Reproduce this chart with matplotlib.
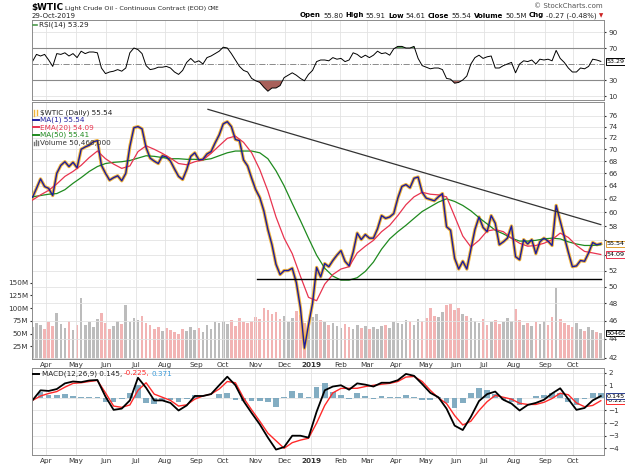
import numpy as np
import pandas as pd
import matplotlib
matplotlib.use('Agg')
import matplotlib.pyplot as plt
from matplotlib.lines import Line2D
from matplotlib.ticker import NullLocator, NullFormatter

plt.rcParams['font.family'] = ['DejaVu Sans']

# trading calendar shown on the chart (exchange holidays inside the window)
first_day = '2018-03-16'
last_day = '2019-10-29'
holidays = ['2018-03-30', '2018-05-28', '2018-07-04', '2018-09-03', '2018-11-22',
            '2018-12-05', '2018-12-25', '2019-01-01', '2019-01-21', '2019-02-18',
            '2019-04-19', '2019-05-27', '2019-07-04', '2019-09-02']

close = [62.2, 63.6, 65.1, 63.9, 63.6, 62.5, 66.0, 67.3, 67.9, 67.1,
         67.8, 66.9, 70.0, 70.4, 70.7, 71.3, 71.5, 67.3, 66.0, 64.9,
         65.3, 65.6, 64.8, 66.0, 70.5, 73.8, 74.0, 73.6, 70.3, 68.5,
         68.0, 67.6, 68.9, 68.7, 68.0, 66.7, 65.5, 65.0, 66.6, 68.8,
         69.4, 68.2, 68.3, 69.2, 69.6, 71.1, 72.5, 74.5, 74.9, 74.0,
         71.7, 71.5, 68.2, 67.2, 65.2, 63.4, 62.2, 60.2, 57.5, 55.4,
         52.8, 51.5, 52.0, 52.0, 52.3, 50.5, 47.5, 43.0, 45.5, 48.0,
         52.4, 51.2, 52.9, 52.5, 53.3, 54.0, 54.6, 53.2, 52.6, 54.4,
         57.0, 56.1, 56.8, 56.3, 56.3, 57.6, 59.5, 59.1, 59.3, 59.8,
         62.1, 63.9, 64.2, 63.7, 65.2, 65.4, 63.0, 62.1, 61.9, 61.7,
         62.3, 62.8, 57.9, 57.4, 53.6, 52.2, 53.2, 52.2, 54.8, 57.5,
         59.3, 57.8, 57.2, 59.5, 58.4, 55.4, 55.8, 56.3, 58.0, 53.8,
         53.4, 56.1, 55.5, 56.1, 54.2, 55.8, 56.3, 55.9, 55.3, 61.0,
         58.7, 56.5, 54.4, 52.5, 52.6, 53.3, 53.2, 54.3, 55.7, 55.4,
         55.54]

# volume in millions, same sampling
volume = [62, 70, 66, 58, 72, 64, 90, 68, 60, 74, 56, 66,
          120, 66, 72, 62, 78, 90, 70, 58, 64, 74, 68, 105,
          72, 80, 76, 84, 70, 66, 58, 62, 54, 60, 56, 52,
          50, 58, 54, 62, 56, 60, 52, 66, 58, 72, 70, 74,
          68, 76, 64, 80, 72, 70, 74, 82, 78, 100, 96, 88,
          92, 78, 84, 72, 80, 94, 86, 70, 62, 82, 88, 76,
          72, 66, 70, 64, 60, 68, 62, 58, 66, 60, 64, 58,
          62, 58, 64, 66, 60, 72, 70, 68, 76, 74, 66, 78,
          74, 80, 100, 84, 82, 92, 106, 108, 96, 100, 88, 84,
          80, 74, 70, 78, 66, 72, 76, 68, 72, 80, 74, 98,
          76, 66, 70, 64, 72, 68, 74, 66, 82, 140, 78, 70,
          66, 62, 70, 58, 54, 62, 56, 52, 50.46]

# RSI(14), same sampling
rsi = [53, 62, 60, 62, 55, 47, 63, 62, 64, 60,
       63, 58, 66, 63, 65, 65, 64, 45, 38, 40,
       41, 43, 41, 45, 64, 70, 68, 63, 48, 43,
       44, 46, 46, 47, 45, 40, 37, 42, 52, 57,
       52, 54, 50, 58, 60, 63, 66, 71, 70, 63,
       55, 47, 42, 40, 32, 29, 27, 21, 16, 20,
       20, 23, 33, 36, 39, 36, 32, 29, 37, 42,
       53, 55, 55, 54, 58, 56, 57, 53, 55, 64,
       62, 58, 61, 58, 61, 66, 63, 64, 61, 69,
       72, 72, 70, 70, 72, 57, 48, 46, 44, 45,
       45, 43, 32, 31, 26, 27, 30, 35, 50, 58,
       61, 57, 59, 60, 45, 45, 48, 50, 52, 39,
       50, 54, 53, 55, 50, 56, 55, 56, 54, 67,
       57, 52, 45, 40, 40, 45, 44, 47, 56, 55,
       53.29]

# EMA(20) and MA(50), read about every 6 trading days
ema20 = [61.8, 62.6, 63.3, 64.3, 65.5, 66.3, 67.3, 68.6, 69.7, 68.4,
         67.5, 66.8, 67.2, 69.6, 70.6, 70.0, 69.3, 68.5, 67.6, 67.4,
         67.9, 68.2, 69.3, 70.6, 71.9, 72.3, 71.2, 69.4, 66.6, 63.2,
         59.3, 56.3, 54.2, 51.3, 48.7, 48.3, 50.3, 51.5, 52.2, 52.5,
         54.3, 55.2, 56.0, 57.2, 58.1, 59.5, 61.1, 62.3, 63.0, 62.7,
         62.6, 62.3, 59.4, 56.6, 55.1, 56.0, 57.3, 57.5, 57.2, 56.3,
         55.6, 55.2, 55.3, 55.6, 56.1, 57.0, 56.4, 55.3, 54.5, 54.3,
         54.09]
ma50 = [62.3, 62.5, 62.7, 62.8, 63.4, 64.4, 65.3, 66.3, 67.1, 67.6,
        67.8, 67.9, 68.1, 68.5, 68.9, 68.8, 68.6, 68.4, 68.4, 68.3,
        68.3, 68.2, 68.4, 68.9, 69.4, 69.7, 69.7, 69.7, 69.4, 68.4,
        66.4, 64.0, 61.3, 58.8, 56.3, 54.0, 52.3, 51.3, 50.8, 50.8,
        51.1, 51.9, 53.1, 54.8, 56.2, 57.2, 58.1, 59.1, 60.1, 60.8,
        61.5, 62.0, 61.6, 61.0, 60.2, 59.2, 58.3, 57.4, 56.9, 56.3,
        55.9, 55.9, 56.0, 56.2, 56.3, 56.2, 55.8, 55.5, 55.3, 55.3,
        55.41]

# MACD(12,26,9) line and signal, same sampling as the averages
macd = [-0.2, 0.6, 0.55, 0.7, 1.15, 1.3, 1.25, 1.38, 1.42, 0.1,
        -0.95, -0.85, -0.2, 1.6, 0.8, -0.2, -0.2, -0.4, -1.0, -0.6,
        0.15, 0.15, 0.3, 1.0, 1.68, 1.0, -0.25, -1.2, -2.1, -3.15,
        -4.1, -3.9, -3.0, -3.0, -3.15, -1.1, 0.6, 0.9, 1.0, 0.65,
        1.15, 1.05, 0.9, 1.2, 1.2, 1.4, 1.9, 1.75, 1.1, 0.4,
        0.05, -0.85, -2.2, -2.55, -1.5, -0.25, 0.3, 0.5, -0.15, -0.45,
        -1.0, -0.56, -0.4, -0.15, 0.35, 0.76, -0.1, -0.95, -0.8, -0.2,
        0.1454]
signal = [-0.2, 0.15, 0.35, 0.5, 0.85, 1.15, 1.2, 1.3, 1.38, 0.4,
          -0.65, -0.75, -0.56, 0.6, 1.2, 0.3, 0.05, -0.2, -0.65, -0.55,
          -0.1, 0.15, 0.3, 0.7, 1.3, 1.2, 0.0, -0.95, -1.85, -2.8,
          -3.4, -4.0, -3.55, -3.35, -3.2, -2.0, -0.6, 0.4, 0.75, 0.76,
          0.76, 0.9, 1.0, 1.08, 1.15, 1.3, 1.65, 1.7, 1.3, 0.6,
          0.0, -0.45, -1.4, -2.15, -1.85, -1.0, -0.3, 0.2, 0.05, -0.1,
          -0.43, -0.52, -0.52, -0.35, -0.05, 0.37, 0.25, -0.4, -0.7, -0.6,
          -0.2253]

# lines drawn by hand on the chart
trend_dates = ['2018-09-14', '2019-10-29']
trend_prices = [77.2, 58.2]
support_dates = ['2018-11-02', '2019-10-29']
support_prices = [50.9, 50.9]

price_ticks = list(range(42, 78, 2))
price_hidden = [54, 56]          # covered by the value boxes on the chart
vol_ticks = [25, 50, 75, 100, 125, 150]
rsi_ticks = [10, 30, 70, 90]
macd_ticks = [-4, -3, -2, -1, 1, 2]

# ---------------------------------------------------------------
W, H = 625, 467
fig = plt.figure(figsize=(W / 100, H / 100), dpi=100)
fig.patch.set_facecolor('white')
renderer = fig.canvas.get_renderer()


def axes_px(x0, y0, x1, y1):
    return fig.add_axes([x0 / W, 1 - y1 / H, (x1 - x0) / W, (y1 - y0) / H])


def ftext(x, y, s, **kw):
    kw.setdefault('va', 'center')
    kw.setdefault('fontsize', 5.2)
    return fig.text(x / W, 1 - y / H, s, **kw)


def fline(x0, x1, y0, y1, **kw):
    fig.add_artist(Line2D([x0 / W, x1 / W], [1 - y0 / H, 1 - y1 / H],
                          transform=fig.transFigure, **kw))


def text_run(x, y, parts, gap=2.2, va='center'):
    # parts: (text, colour, weight, size)
    for s, color, weight, size in parts:
        t = ftext(x, y, s, color=color, fontweight=weight, fontsize=size, va=va)
        x += t.get_window_extent(renderer).width + gap
    return x


days = pd.bdate_range(first_day, last_day, freq='C', holidays=holidays)
n = len(days)
xs = np.linspace(0, n - 1, len(close))
xc = np.linspace(0, n - 1, len(ma50))
close_a = np.array(close)
rsi_a = np.array(rsi)
hist = np.array(macd) - np.array(signal)

starts = [i for i in range(1, n) if days[i].month != days[i - 1].month]
mlabels = ['2019' if days[i].month == 1 else days[i].strftime('%b') for i in starts]
XL = (-0.3, n + 1.3)


def pos(dates):
    return [days.searchsorted(pd.Timestamp(d)) for d in dates]


def frame(ax, xlabels):
    ax.set_xlim(XL)
    for sp in ax.spines.values():
        sp.set_color('#8c8c8c')
        sp.set_linewidth(0.7)
    ax.set_xticks(starts)
    if xlabels:
        ax.set_xticklabels(mlabels)
        for t in ax.get_xticklabels():
            if t.get_text() == '2019':
                t.set_fontweight('bold')
    else:
        ax.set_xticklabels([])
    ax.tick_params(axis='x', length=0, labelsize=5.2, colors='#333333', pad=2)
    ax.tick_params(axis='y', left=False, right=True, labelleft=False,
                   labelright=True, length=1.5, labelsize=5.2,
                   colors='#333333', pad=1.5)
    ax.grid(True, color='#e3e3e3', lw=0.6)
    ax.set_axisbelow(True)


def value_box(ax, y, s, ec):
    ax.annotate(s, xy=(1, y), xycoords=('axes fraction', 'data'),
                xytext=(1.6, 0), textcoords='offset points', fontsize=4.6,
                va='center', ha='left', annotation_clip=False, zorder=10,
                bbox=dict(boxstyle='square,pad=0.1', fc='white', ec=ec, lw=0.7))


# ---------------- RSI panel ----------------
rsi_ax = axes_px(32, 20, 604, 100)
frame(rsi_ax, False)
rsi_ax.set_ylim(5, 105)
rsi_ax.set_yticks(rsi_ticks)
rsi_ax.axhline(70, color='#8a8a8a', lw=0.8)
rsi_ax.axhline(30, color='#8a8a8a', lw=0.8)
rsi_ax.axhline(50, color='#8a8a8a', lw=0.7, ls='-.')
rsi_ax.fill_between(xs, rsi_a, 30, where=rsi_a < 30, interpolate=True,
                    color='#a8605a', lw=0)
rsi_ax.fill_between(xs, rsi_a, 70, where=rsi_a > 70, interpolate=True,
                    color='#4e9a4e', lw=0)
rsi_ax.plot(xs, rsi_a, color='black', lw=0.7)
value_box(rsi_ax, rsi[-1], f'{rsi[-1]:.2f}', 'black')
fline(33, 37, 25, 25, color='#4e9a4e', lw=1.2)
ftext(39, 24.7, f'RSI(14) {rsi[-1]:.2f}', color='#222222')

# ---------------- price panel ----------------
price_ax = axes_px(32, 102, 604, 359)
vol_ax = price_ax.twinx()
frame(price_ax, True)
price_ax.set_yscale('log')
price_ax.set_ylim(41.87, 78.6)
price_ax.set_yticks(price_ticks)
price_ax.set_yticklabels(['' if t in price_hidden else str(t) for t in price_ticks])
price_ax.yaxis.set_minor_locator(NullLocator())
price_ax.yaxis.set_minor_formatter(NullFormatter())
price_ax.yaxis.tick_right()

vol_ax.set_zorder(price_ax.get_zorder() - 1)
vol_ax.patch.set_visible(True)
vol_ax.patch.set_facecolor('white')
price_ax.patch.set_visible(False)
vol_ax.set_ylim(0, 504)
vol_ax.set_yticks(vol_ticks)
vol_ax.set_yticklabels([f'{v}M' for v in vol_ticks])
vol_ax.yaxis.tick_left()
vol_ax.tick_params(axis='y', length=1.5, labelsize=5.2, colors='#333333', pad=1.5)
for sp in vol_ax.spines.values():
    sp.set_visible(False)
down = np.r_[False, close_a[1:] < close_a[:-1]]
vcolors = np.where(down, '#f2b4b4', '#bcbcbc')
vol_ax.bar(xs, volume, width=1.9, color=vcolors, lw=0)

price_ax.plot(xs, close_a, color='#f0b43c', lw=2.4, zorder=3)
price_ax.plot(xc, ma50, color='#1f8a1f', lw=0.9, zorder=4)
price_ax.plot(xc, ema20, color='#e8344f', lw=0.9, zorder=4)
price_ax.plot(xs, close_a, color='#1c1c9e', lw=1.0, zorder=5)
price_ax.plot(pos(trend_dates), trend_prices, color='#333333', lw=0.9, zorder=6)
price_ax.plot(pos(support_dates), support_prices, color='black', lw=1.0, zorder=6)

value_box(price_ax, ema20[-1], f'{ema20[-1]:.2f}', '#e8344f')
value_box(price_ax, close[-1], f'{close[-1]:.2f}', '#e0a030')
value_box(vol_ax, volume[-1], f'{volume[-1] * 1000:.0f}', 'black')

legend = [(f'$WTIC (Daily) {close[-1]:.2f}', '#222222', None, 112.7),
          (f'MA(1) {close[-1]:.2f}', '#2020a0', '#2020a0', 120.0),
          (f'EMA(20) {ema20[-1]:.2f}', '#e8344f', '#e8344f', 127.3),
          (f'MA(50) {ma50[-1]:.2f}', '#1f8a1f', '#1f8a1f', 135.0),
          (f'Volume {volume[-1] * 1e6:,.0f}', '#333333', None, 142.7)]
for label, tcolor, lcolor, y in legend:
    if lcolor:
        fline(33, 38.5, y, y, color=lcolor, lw=1.4)
    ftext(39.5, y, label, color=tcolor)
fline(34, 34, 110, 115.5, color='#f0b43c', lw=1.0)
fline(36.5, 36.5, 109.5, 115, color='#f0b43c', lw=1.0)
for bx, bh in [(33.5, 3), (35.5, 5), (37.5, 4)]:
    fline(bx, bx, 145, 145 - bh, color='#777777', lw=1.0)

# ---------------- MACD panel ----------------
macd_ax = axes_px(32, 368, 604, 455)
frame(macd_ax, True)
macd_ax.set_ylim(-4.53, 2.37)
macd_ax.set_yticks(macd_ticks)
macd_ax.axhline(0, color='#e3e3e3', lw=0.6, zorder=0)
macd_ax.bar(xc, hist, width=(xc[1] - xc[0]) * 0.7, color='#6d9fb8', alpha=0.85, lw=0)
macd_ax.plot(xc, signal, color='#ff2a2a', lw=1.0)
macd_ax.plot(xc, macd, color='black', lw=1.3)
value_box(macd_ax, signal[-1], f'{signal[-1]:.3f}', '#ff2a2a')
value_box(macd_ax, macd[-1], f'{macd[-1]:.3f}', '#2a3f8f')

fline(33, 39, 373.5, 373.5, color='black', lw=1.4)
text_run(41.5, 373.5, [(f'MACD(12,26,9) {macd[-1]:.3f},', '#222222', 'normal', 5.2),
                       (f'{signal[-1]:.3f},', '#ff2a2a', 'normal', 5.2),
                       (f'{hist[-1]:.3f}', '#3a9ad9', 'normal', 5.2)])

# ---------------- header ----------------
text_run(31, 10, [('$WTIC', 'black', 'bold', 6.4),
                  ('Light Crude Oil - Continuous Contract (EOD)', '#222222', 'normal', 4.6),
                  ('CME', '#222222', 'normal', 3.9)], gap=2.0, va='baseline')
ftext(32, 15.5, '29-Oct-2019', fontsize=5.0, color='#222222')
ftext(603, 5.5, '\u00a9 StockCharts.com', fontsize=5.0, color='#555555', ha='right')
xe = text_run(300, 15.5, [('Open', 'black', 'bold', 5.0), ('55.80', '#222222', 'normal', 5.0),
                          ('High', 'black', 'bold', 5.0), ('55.91', '#222222', 'normal', 5.0),
                          ('Low', 'black', 'bold', 5.0), ('54.61', '#222222', 'normal', 5.0),
                          ('Close', 'black', 'bold', 5.0), ('55.54', '#222222', 'normal', 5.0),
                          ('Volume', 'black', 'bold', 5.0), ('50.5M', '#222222', 'normal', 5.0),
                          ('Chg', 'black', 'bold', 5.0),
                          ('-0.27 (-0.48%)', '#222222', 'normal', 5.0)])
ftext(xe, 15.8, '\u25bc', fontsize=4.0, color='#cc2222')

fig.savefig('out.png', dpi=100)
